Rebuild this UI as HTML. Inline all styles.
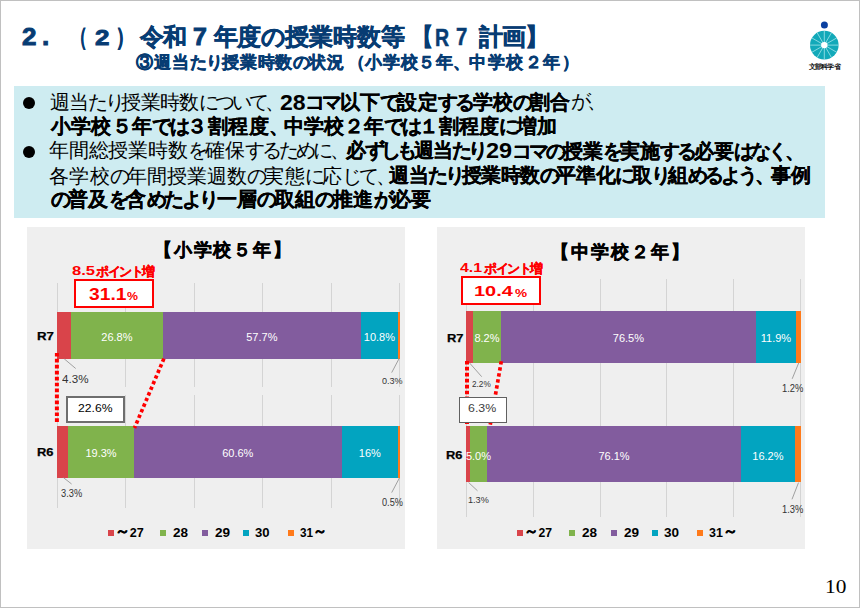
<!DOCTYPE html>
<html><head><meta charset="utf-8">
<style>
*{margin:0;padding:0;box-sizing:border-box}
html,body{width:860px;height:608px;overflow:hidden;background:#fff}
body{position:relative;font-family:'Liberation Sans',sans-serif;color:#000}
.frame{position:absolute;left:0;top:0;width:860px;height:608px;border:1px solid #c0c0c0}
.a{position:absolute;white-space:nowrap}
.seg{position:absolute}
.gl{position:absolute;width:1px;background:#d4d4d4}
.sl{position:absolute;width:80px;text-align:center;color:#fff;font-size:11px;line-height:16px;white-space:nowrap}
.bx{position:absolute;left:14px;top:86px;width:811px;height:132px;background:#ceecf1}
.dot{position:absolute;width:12px;height:12px;border-radius:50%;background:#000}
.panel{position:absolute;background:#efefef}
.rb{position:absolute;border:2px solid #ff0000;background:#fff}
.sq{position:absolute;width:6px;height:6px}
</style></head><body>
<div class="frame"></div>
<div class="a" style="left:21.80px;top:20.10px;font-size:23.64px;letter-spacing:0.000px;line-height:1.5;font-weight:bold;color:#073c73;-webkit-text-stroke:0.9px currentColor;transform:scaleX(1.100);transform-origin:0 0">2</div>
<div class="a" style="left:42.20px;top:17.10px;font-size:25.50px;letter-spacing:0.000px;line-height:1.5;font-weight:bold;color:#073c73;-webkit-text-stroke:0.9px currentColor;transform:scaleX(1.028);transform-origin:0 0">.</div>
<div class="a" style="left:71.50px;top:19.20px;font-size:24.00px;letter-spacing:0.000px;line-height:1.5;font-weight:bold;color:#073c73;-webkit-text-stroke:1.0px currentColor;transform:scaleX(0.618);transform-origin:0 0">（</div>
<div class="a" style="left:95.00px;top:20.60px;font-size:22.26px;letter-spacing:0.000px;line-height:1.5;font-weight:bold;color:#073c73;-webkit-text-stroke:0.9px currentColor;transform:scaleX(1.166);transform-origin:0 0">2</div>
<div class="a" style="left:116.00px;top:19.20px;font-size:24.00px;letter-spacing:0.000px;line-height:1.5;font-weight:bold;color:#073c73;-webkit-text-stroke:1.0px currentColor;transform:scaleX(0.726);transform-origin:0 0">）</div>
<div class="a" style="left:140.40px;top:18.70px;font-size:24.00px;letter-spacing:-1.400px;line-height:1.5;font-weight:bold;color:#073c73;-webkit-text-stroke:0.5px currentColor">令和</div>
<div class="a" style="left:193.00px;top:20.30px;font-size:23.00px;letter-spacing:0.000px;line-height:1.5;font-weight:bold;color:#073c73;-webkit-text-stroke:0.9px currentColor;transform:scaleX(1.082);transform-origin:0 0">7</div>
<div class="a" style="left:213.50px;top:18.70px;font-size:24.00px;letter-spacing:-0.029px;line-height:1.5;font-weight:bold;color:#073c73;-webkit-text-stroke:0.5px currentColor">年度<span style="letter-spacing:-0.989px">の</span>授業時数等</div>
<div class="a" style="left:411.60px;top:19.40px;font-size:24.00px;letter-spacing:0.000px;line-height:1.5;font-weight:bold;color:#073c73;-webkit-text-stroke:0.5px currentColor;transform:scaleX(0.884);transform-origin:0 0">【</div>
<div class="a" style="left:435.30px;top:20.50px;font-size:23.30px;letter-spacing:0.000px;line-height:1.5;font-weight:bold;color:#073c73;-webkit-text-stroke:0.5px currentColor;transform:scaleX(0.838);transform-origin:0 0">R</div>
<div class="a" style="left:455.80px;top:19.90px;font-size:23.30px;letter-spacing:0.000px;line-height:1.5;font-weight:bold;color:#073c73;-webkit-text-stroke:0.5px currentColor;transform:scaleX(0.872);transform-origin:0 0">7</div>
<div class="a" style="left:479.00px;top:19.40px;font-size:24.00px;letter-spacing:-1.100px;line-height:1.5;font-weight:bold;color:#073c73;-webkit-text-stroke:0.5px currentColor">計画】</div>
<div class="a" style="left:136.20px;top:48.64px;font-size:17.40px;letter-spacing:0.836px;line-height:1.5;font-weight:bold;color:#073c73;-webkit-text-stroke:0.45px currentColor">③週当<span style="letter-spacing:-0.904px">たり</span>授業時数<span style="letter-spacing:-0.904px">の</span>状況</div>
<div class="a" style="left:347.80px;top:48.64px;font-size:17.40px;letter-spacing:0.600px;line-height:1.5;font-weight:bold;color:#073c73;-webkit-text-stroke:0.45px currentColor">（小学校５年、</div>
<div class="a" style="left:469.00px;top:48.64px;font-size:17.40px;letter-spacing:1.560px;line-height:1.5;font-weight:bold;color:#073c73;-webkit-text-stroke:0.45px currentColor">中学校２年）</div>
<svg class="a" style="left:808px;top:18px" width="34" height="44" viewBox="0 0 34 44">
<circle cx="16.4" cy="7.1" r="3.5" fill="#0a40a0"/>
<circle cx="16.3" cy="27.1" r="14.3" fill="#12a9b9"/>
<g stroke="#b8eef2" stroke-width="0.7"><line x1="2.00" y1="27.10" x2="30.60" y2="27.10"/><line x1="3.92" y1="19.95" x2="28.68" y2="34.25"/><line x1="9.15" y1="14.72" x2="23.45" y2="39.48"/><line x1="16.30" y1="12.80" x2="16.30" y2="41.40"/><line x1="23.45" y1="14.72" x2="9.15" y2="39.48"/><line x1="28.68" y1="19.95" x2="3.92" y2="34.25"/></g>
<circle cx="16.3" cy="27.1" r="3.2" fill="#fff"/>
</svg>
<div class="a" style="left:809.00px;top:62.40px;font-size:7.17px;letter-spacing:-0.862px;line-height:1.5;font-family:'Liberation Serif',serif;color:#111;font-weight:bold">文部科学省</div>
<div class="bx"></div>
<div class="dot" style="left:23px;top:97px"></div>
<div class="dot" style="left:23px;top:146px"></div>
<div class="a" style="left:49.50px;top:87.20px;font-size:20.00px;letter-spacing:-0.633px;line-height:1.5;color:#000">週当<span style="letter-spacing:-3.433px">たり</span>授業時数<span style="letter-spacing:-3.433px">について、</span></div>
<div class="a" style="left:279.90px;top:87.10px;font-size:21.19px;letter-spacing:0.000px;line-height:1.5;font-weight:bold;color:#000;transform:scaleX(1.088);transform-origin:0 0">28</div>
<div class="a" style="left:305.00px;top:86.70px;font-size:20.00px;letter-spacing:0.169px;line-height:1.5;font-weight:bold;color:#000;-webkit-text-stroke:0.2px currentColor"><span style="letter-spacing:-2.631px">コマ</span>以下<span style="letter-spacing:-2.631px">で</span>設定<span style="letter-spacing:-2.631px">する</span>学校<span style="letter-spacing:-2.631px">の</span>割合</div>
<div class="a" style="left:570.90px;top:86.20px;font-size:20.00px;letter-spacing:-0.800px;line-height:1.5;color:#000"><span style="letter-spacing:-3.600px">が、</span></div>
<div class="a" style="left:50.50px;top:110.50px;font-size:20.00px;letter-spacing:0.364px;line-height:1.5;font-weight:bold;color:#000;-webkit-text-stroke:0.2px currentColor">小学校５年<span style="letter-spacing:-2.436px">では</span>３割程度<span style="letter-spacing:-2.436px">、</span></div>
<div class="a" style="left:283.50px;top:110.50px;font-size:20.00px;letter-spacing:0.138px;line-height:1.5;font-weight:bold;color:#000;-webkit-text-stroke:0.2px currentColor">中学校２年<span style="letter-spacing:-2.662px">では</span>１割程度<span style="letter-spacing:-2.662px">に</span>増加</div>
<div class="a" style="left:48.80px;top:134.60px;font-size:20.00px;letter-spacing:-0.133px;line-height:1.5;color:#000">年間総授業時数<span style="letter-spacing:-2.933px">を</span>確保<span style="letter-spacing:-2.933px">するために、</span></div>
<div class="a" style="left:345.50px;top:134.60px;font-size:20.00px;letter-spacing:-0.857px;line-height:1.5;font-weight:bold;color:#000;-webkit-text-stroke:0.2px currentColor">必<span style="letter-spacing:-3.657px">ずしも</span>週当<span style="letter-spacing:-3.657px">たり</span></div>
<div class="a" style="left:486.30px;top:133.80px;font-size:22.50px;letter-spacing:0.000px;line-height:1.5;font-weight:bold;color:#000;transform:scaleX(1.043);transform-origin:0 0">29</div>
<div class="a" style="left:512.00px;top:135.60px;font-size:20.00px;letter-spacing:-0.120px;line-height:1.5;font-weight:bold;color:#000;-webkit-text-stroke:0.2px currentColor"><span style="letter-spacing:-2.920px">コマの</span>授業<span style="letter-spacing:-2.920px">を</span>実施<span style="letter-spacing:-2.920px">する</span>必要<span style="letter-spacing:-2.920px">はなく、</span></div>
<div class="a" style="left:49.40px;top:161.40px;font-size:20.00px;letter-spacing:0.059px;line-height:1.5;color:#000">各学校<span style="letter-spacing:-2.741px">の</span>年間授業週数<span style="letter-spacing:-2.741px">の</span>実態<span style="letter-spacing:-2.741px">に</span>応<span style="letter-spacing:-2.741px">じて、</span></div>
<div class="a" style="left:389.00px;top:160.10px;font-size:20.00px;letter-spacing:-0.464px;line-height:1.5;font-weight:bold;color:#000;-webkit-text-stroke:0.2px currentColor">週当<span style="letter-spacing:-3.264px">たり</span>授業時数<span style="letter-spacing:-3.264px">の</span>平準化<span style="letter-spacing:-3.264px">に</span>取<span style="letter-spacing:-3.264px">り</span>組<span style="letter-spacing:-3.264px">めるよう、</span>事例</div>
<div class="a" style="left:50.50px;top:184.00px;font-size:20.00px;letter-spacing:0.316px;line-height:1.5;font-weight:bold;color:#000;-webkit-text-stroke:0.2px currentColor"><span style="letter-spacing:-2.484px">の</span>普及<span style="letter-spacing:-2.484px">を</span>含<span style="letter-spacing:-2.484px">めたより</span>一層<span style="letter-spacing:-2.484px">の</span>取組<span style="letter-spacing:-2.484px">の</span>推進<span style="letter-spacing:-2.484px">が</span>必要</div>
<div class="panel" style="left:27px;top:227px;width:378px;height:322px"></div>
<div class="panel" style="left:437px;top:227px;width:368px;height:322px"></div>
<div class="gl" style="left:57px;top:283px;height:104px"></div>
<div class="gl" style="left:125px;top:283px;height:104px"></div>
<div class="gl" style="left:194px;top:283px;height:104px"></div>
<div class="gl" style="left:262px;top:283px;height:104px"></div>
<div class="gl" style="left:331px;top:283px;height:104px"></div>
<div class="gl" style="left:399px;top:283px;height:104px"></div>
<div class="gl" style="left:57px;top:395px;height:113px"></div>
<div class="gl" style="left:125px;top:395px;height:113px"></div>
<div class="gl" style="left:194px;top:395px;height:113px"></div>
<div class="gl" style="left:262px;top:395px;height:113px"></div>
<div class="gl" style="left:331px;top:395px;height:113px"></div>
<div class="gl" style="left:399px;top:395px;height:113px"></div>
<div class="seg" style="left:57.00px;top:312px;width:13.90px;height:46.80px;background:#d9444a"></div>
<div class="seg" style="left:70.90px;top:312px;width:92.00px;height:46.80px;background:#80b34c"></div>
<div class="seg" style="left:162.90px;top:312px;width:197.90px;height:46.80px;background:#825c9e"></div>
<div class="seg" style="left:360.80px;top:312px;width:37.20px;height:46.80px;background:#02a4c0"></div>
<div class="seg" style="left:398.00px;top:312px;width:1.90px;height:46.80px;background:#ff7a1a"></div>
<div class="seg" style="left:57.00px;top:426px;width:11.00px;height:51.70px;background:#d9444a"></div>
<div class="seg" style="left:68.00px;top:426px;width:66.00px;height:51.70px;background:#80b34c"></div>
<div class="seg" style="left:134.00px;top:426px;width:207.60px;height:51.70px;background:#825c9e"></div>
<div class="seg" style="left:341.60px;top:426px;width:56.50px;height:51.70px;background:#02a4c0"></div>
<div class="seg" style="left:398.10px;top:426px;width:1.90px;height:51.70px;background:#ff7a1a"></div>
<div class="sl" style="left:76.90px;top:328.60px">26.8%</div>
<div class="sl" style="left:221.85px;top:328.60px">57.7%</div>
<div class="sl" style="left:339.40px;top:328.60px">10.8%</div>
<div class="sl" style="left:61.00px;top:444.80px">19.3%</div>
<div class="sl" style="left:197.80px;top:444.80px">60.6%</div>
<div class="sl" style="left:329.85px;top:444.80px">16%</div>
<div class="gl" style="left:466px;top:279px;height:238px"></div>
<div class="gl" style="left:533px;top:279px;height:238px"></div>
<div class="gl" style="left:600px;top:279px;height:238px"></div>
<div class="gl" style="left:666px;top:279px;height:238px"></div>
<div class="gl" style="left:733px;top:279px;height:238px"></div>
<div class="gl" style="left:800px;top:279px;height:238px"></div>
<div class="seg" style="left:466.10px;top:310.8px;width:6.80px;height:51.90px;background:#d9444a"></div>
<div class="seg" style="left:472.90px;top:310.8px;width:28.10px;height:51.90px;background:#80b34c"></div>
<div class="seg" style="left:501.00px;top:310.8px;width:254.90px;height:51.90px;background:#825c9e"></div>
<div class="seg" style="left:755.90px;top:310.8px;width:40.10px;height:51.90px;background:#02a4c0"></div>
<div class="seg" style="left:796.00px;top:310.8px;width:4.90px;height:51.90px;background:#ff7a1a"></div>
<div class="seg" style="left:466.10px;top:425.9px;width:3.80px;height:56.60px;background:#d9444a"></div>
<div class="seg" style="left:469.90px;top:425.9px;width:17.10px;height:56.60px;background:#80b34c"></div>
<div class="seg" style="left:487.00px;top:425.9px;width:254.00px;height:56.60px;background:#825c9e"></div>
<div class="seg" style="left:741.00px;top:425.9px;width:53.90px;height:56.60px;background:#02a4c0"></div>
<div class="seg" style="left:794.90px;top:425.9px;width:6.00px;height:56.60px;background:#ff7a1a"></div>
<div class="sl" style="left:446.95px;top:330.40px">8.2%</div>
<div class="sl" style="left:588.45px;top:330.40px">76.5%</div>
<div class="sl" style="left:735.95px;top:330.40px">11.9%</div>
<div class="sl" style="left:438.45px;top:447.50px">5.0%</div>
<div class="sl" style="left:574.00px;top:447.50px">76.1%</div>
<div class="sl" style="left:727.95px;top:447.50px">16.2%</div>
<svg class="a" style="left:0;top:0" width="860" height="608">
<g stroke="#ff0000" stroke-width="4" stroke-dasharray="3.7 2.25" fill="none">
<line x1="56.9" y1="352.9" x2="56.9" y2="424"/>
<line x1="467" y1="360.9" x2="467" y2="426"/>
</g>
<g stroke="#ff0000" stroke-width="3.7" stroke-dasharray="3.4 2.7" fill="none">
<line x1="163.9" y1="358.6" x2="134.5" y2="428"/>
<line x1="501.3" y1="361.2" x2="490.2" y2="425"/>
</g>
<g stroke="#8c8c8c" stroke-width="0.8" fill="none">
<line x1="64.2" y1="358.8" x2="75.7" y2="368.5"/>
<line x1="399.4" y1="358" x2="391.7" y2="372.6"/>
<line x1="63.3" y1="477.5" x2="71.6" y2="484"/>
<line x1="399.4" y1="478" x2="391.7" y2="492.6"/>
<line x1="469.6" y1="363" x2="481.7" y2="376.7"/>
<line x1="798.7" y1="363" x2="792.2" y2="378.8"/>
<line x1="798.5" y1="482.6" x2="792" y2="499.3"/>
<line x1="468.6" y1="482.5" x2="477.5" y2="490.8"/>
</g>
</svg>
<div class="a" style="left:66px;top:396px;width:59px;height:27px;border:2px solid #6e6e6e;background:#fff"></div>
<div class="a" style="left:459px;top:397px;width:48px;height:26px;border:1.3px solid #606060;background:#fff"></div>
<div class="rb" style="left:74px;top:279px;width:80px;height:29px"></div>
<div class="rb" style="left:461px;top:276px;width:79.5px;height:29px"></div>
<div class="sq" style="left:108px;top:530px;background:#d9444a"></div>
<div class="sq" style="left:160px;top:530px;background:#80b34c"></div>
<div class="sq" style="left:202px;top:530px;background:#825c9e"></div>
<div class="sq" style="left:243.2px;top:530px;background:#02a4c0"></div>
<div class="sq" style="left:287.5px;top:530px;background:#ff7a1a"></div>
<div class="sq" style="left:516.7px;top:530px;background:#d9444a"></div>
<div class="sq" style="left:569px;top:530px;background:#80b34c"></div>
<div class="sq" style="left:610.8px;top:530px;background:#825c9e"></div>
<div class="sq" style="left:652px;top:530px;background:#02a4c0"></div>
<div class="sq" style="left:696.8px;top:530px;background:#ff7a1a"></div>
<div class="a" style="left:153.70px;top:236.80px;font-size:18.00px;letter-spacing:1.933px;line-height:1.5;font-weight:bold;color:#000;-webkit-text-stroke:0.45px currentColor">【小学校５年】</div>
<div class="a" style="left:551.10px;top:238.60px;font-size:18.00px;letter-spacing:1.967px;line-height:1.5;font-weight:bold;color:#000;-webkit-text-stroke:0.45px currentColor">【中学校２年】</div>
<div class="a" style="left:71.80px;top:261.22px;font-size:12.80px;letter-spacing:0.000px;line-height:1.5;font-weight:bold;color:#ff0000;transform:scaleX(1.298);transform-origin:0 0">8.5</div>
<div class="a" style="left:96.40px;top:262.96px;font-size:12.60px;letter-spacing:-1.600px;line-height:1.5;font-weight:bold;color:#ff0000;-webkit-text-stroke:0.3px currentColor">ポイント増</div>
<div class="a" style="left:460.00px;top:258.22px;font-size:12.80px;letter-spacing:0.000px;line-height:1.5;font-weight:bold;color:#ff0000;transform:scaleX(1.243);transform-origin:0 0">4.1</div>
<div class="a" style="left:484.40px;top:259.96px;font-size:12.60px;letter-spacing:-1.600px;line-height:1.5;font-weight:bold;color:#ff0000;-webkit-text-stroke:0.3px currentColor">ポイント増</div>
<div class="a" style="left:89.20px;top:283.20px;font-size:15.93px;letter-spacing:0.000px;line-height:1.5;font-weight:bold;color:#ff0000;transform:scaleX(1.209);transform-origin:0 0">31.1</div>
<div class="a" style="left:127.40px;top:289.10px;font-size:10.20px;letter-spacing:0.000px;line-height:1.5;font-weight:bold;color:#ff0000;transform:scaleX(1.210);transform-origin:0 0">%</div>
<div class="a" style="left:474.30px;top:278.70px;font-size:15.53px;letter-spacing:0.000px;line-height:1.5;font-weight:bold;color:#ff0000;transform:scaleX(1.285);transform-origin:0 0">10.4</div>
<div class="a" style="left:514.50px;top:286.10px;font-size:10.20px;letter-spacing:0.000px;line-height:1.5;font-weight:bold;color:#ff0000;transform:scaleX(1.333);transform-origin:0 0">%</div>
<div class="a" style="left:78.30px;top:399.10px;font-size:11.74px;letter-spacing:0.000px;line-height:1.5;color:#000;transform:scaleX(1.036);transform-origin:0 0">22.6%</div>
<div class="a" style="left:468.40px;top:400.00px;font-size:11.84px;letter-spacing:0.000px;line-height:1.5;color:#404040;transform:scaleX(1.046);transform-origin:0 0">6.3%</div>
<div class="a" style="left:37.00px;top:327.30px;font-size:11.70px;letter-spacing:0.000px;line-height:1.5;font-weight:bold;color:#000;-webkit-text-stroke:0.25px currentColor;transform:scaleX(1.133);transform-origin:0 0">R7</div>
<div class="a" style="left:37.00px;top:444.10px;font-size:11.37px;letter-spacing:0.000px;line-height:1.5;font-weight:bold;color:#000;-webkit-text-stroke:0.25px currentColor;transform:scaleX(1.137);transform-origin:0 0">R6</div>
<div class="a" style="left:447.00px;top:330.10px;font-size:11.37px;letter-spacing:0.000px;line-height:1.5;font-weight:bold;color:#000;-webkit-text-stroke:0.25px currentColor;transform:scaleX(1.138);transform-origin:0 0">R7</div>
<div class="a" style="left:446.00px;top:446.60px;font-size:11.37px;letter-spacing:0.000px;line-height:1.5;font-weight:bold;color:#000;-webkit-text-stroke:0.25px currentColor;transform:scaleX(1.133);transform-origin:0 0">R6</div>
<div class="a" style="left:61.80px;top:371.20px;font-size:11.49px;letter-spacing:0.000px;line-height:1.5;color:#333;transform:scaleX(1.012);transform-origin:0 0">4.3%</div>
<div class="a" style="left:381.70px;top:376.00px;font-size:8.24px;letter-spacing:0.000px;line-height:1.5;color:#333;transform:scaleX(1.099);transform-origin:0 0">0.3%</div>
<div class="a" style="left:61.00px;top:486.20px;font-size:10.32px;letter-spacing:0.000px;line-height:1.5;color:#333;transform:scaleX(0.899);transform-origin:0 0">3.3%</div>
<div class="a" style="left:381.70px;top:495.00px;font-size:10.32px;letter-spacing:0.000px;line-height:1.5;color:#333;transform:scaleX(0.889);transform-origin:0 0">0.5%</div>
<div class="a" style="left:472.10px;top:377.40px;font-size:9.95px;letter-spacing:0.000px;line-height:1.5;color:#333;transform:scaleX(0.826);transform-origin:0 0">2.2%</div>
<div class="a" style="left:782.00px;top:380.90px;font-size:10.32px;letter-spacing:0.000px;line-height:1.5;color:#333;transform:scaleX(0.911);transform-origin:0 0">1.2%</div>
<div class="a" style="left:782.00px;top:501.60px;font-size:10.32px;letter-spacing:0.000px;line-height:1.5;color:#333;transform:scaleX(0.911);transform-origin:0 0">1.3%</div>
<div class="a" style="left:467.50px;top:493.00px;font-size:9.55px;letter-spacing:0.000px;line-height:1.5;color:#333;transform:scaleX(0.956);transform-origin:0 0">1.3%</div>
<div class="a" style="left:824.60px;top:573.20px;font-size:19.07px;letter-spacing:0.000px;line-height:1.5;font-family:'Liberation Serif',serif;color:#000;transform:scaleX(1.120);transform-origin:0 0">10</div>
<div class="a" style="left:114.70px;top:523.94px;font-size:12.60px;letter-spacing:0.000px;line-height:1.5;font-weight:bold;color:#000"><span style="font-size:1.2em;line-height:0;position:relative;top:-0.04em;-webkit-text-stroke:0.3px currentColor">～</span>27</div>
<div class="a" style="left:173.00px;top:524.24px;font-size:12.62px;letter-spacing:0.000px;line-height:1.5;font-weight:bold;color:#000;transform:scaleX(1.071);transform-origin:0 0">28</div>
<div class="a" style="left:214.60px;top:524.24px;font-size:12.62px;letter-spacing:0.000px;line-height:1.5;font-weight:bold;color:#000;transform:scaleX(1.074);transform-origin:0 0">29</div>
<div class="a" style="left:255.30px;top:524.24px;font-size:12.62px;letter-spacing:0.000px;line-height:1.5;font-weight:bold;color:#000;transform:scaleX(1.038);transform-origin:0 0">30</div>
<div class="a" style="left:300.40px;top:523.94px;font-size:12.60px;letter-spacing:0.000px;line-height:1.5;font-weight:bold;color:#000;transform:scaleX(0.934);transform-origin:0 0">31<span style="font-size:1.2em;line-height:0;position:relative;top:-0.04em;-webkit-text-stroke:0.3px currentColor">～</span></div>
<div class="a" style="left:524.00px;top:523.94px;font-size:12.60px;letter-spacing:0.000px;line-height:1.5;font-weight:bold;color:#000;transform:scaleX(0.967);transform-origin:0 0"><span style="font-size:1.2em;line-height:0;position:relative;top:-0.04em;-webkit-text-stroke:0.3px currentColor">～</span>27</div>
<div class="a" style="left:582.20px;top:524.24px;font-size:12.62px;letter-spacing:0.000px;line-height:1.5;font-weight:bold;color:#000;transform:scaleX(1.073);transform-origin:0 0">28</div>
<div class="a" style="left:623.60px;top:524.24px;font-size:12.62px;letter-spacing:0.000px;line-height:1.5;font-weight:bold;color:#000;transform:scaleX(1.074);transform-origin:0 0">29</div>
<div class="a" style="left:664.30px;top:524.24px;font-size:12.62px;letter-spacing:0.000px;line-height:1.5;font-weight:bold;color:#000;transform:scaleX(1.073);transform-origin:0 0">30</div>
<div class="a" style="left:709.30px;top:523.94px;font-size:12.60px;letter-spacing:0.000px;line-height:1.5;font-weight:bold;color:#000;transform:scaleX(0.987);transform-origin:0 0">31<span style="font-size:1.2em;line-height:0;position:relative;top:-0.04em;-webkit-text-stroke:0.3px currentColor">～</span></div>
</body></html>
